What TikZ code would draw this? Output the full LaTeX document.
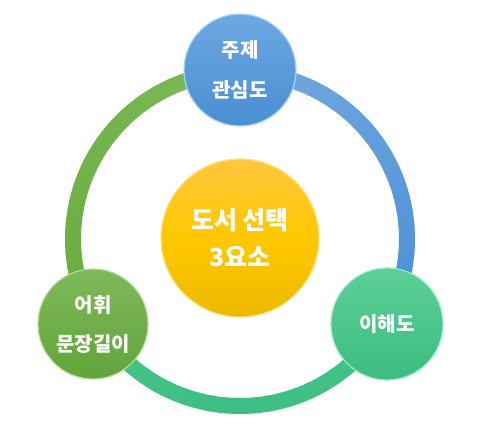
\documentclass[tikz,border=0pt]{standalone}
\usepackage{fontspec}
\newfontfamily\kr{Noto Sans CJK KR}
\definecolor{blueA}{HTML}{74AADF}
\definecolor{blueB}{HTML}{4A8FD6}
\definecolor{tealA}{HTML}{45C487}
\definecolor{tealB}{HTML}{3DBE82}
\definecolor{greenA}{HTML}{7DBA56}
\definecolor{greenB}{HTML}{68AC40}
\definecolor{yT}{HTML}{FFC83D}
\definecolor{yM}{HTML}{FFC800}
\definecolor{yB}{HTML}{EDB800}
\definecolor{yR}{HTML}{FFE27A}
\definecolor{bT}{HTML}{6CA8E1}
\definecolor{bB}{HTML}{4A8ED2}
\definecolor{bR}{HTML}{A8D4F5}
\definecolor{gT}{HTML}{7EB95A}
\definecolor{gB}{HTML}{62A43A}
\definecolor{gR}{HTML}{B4DA94}
\definecolor{tT}{HTML}{5CCF97}
\definecolor{tB}{HTML}{3CBD7F}
\definecolor{tR}{HTML}{9AEBC8}
\tikzset{
  ball/.style={circle, inner sep=0pt, text=white, align=center, font=\kr\bfseries},
  ringseg/.style={line width=16pt, line cap=butt}
}
\begin{document}
\begin{tikzpicture}[x=1pt,y=1pt]
\useasboundingbox (0,0) rectangle (482,440);
\fill[white] (0,0) rectangle (482,440);
\coordinate (C) at (240,201);
% ring segments
\foreach \i in {0,...,23}{
  \pgfmathsetmacro\a{90-5*\i}
  \pgfmathtruncatemacro\p{100-100*\i/23}
  \draw[ringseg, color=blueA!\p!blueB] (C) ++(\a:167) arc[start angle=\a, end angle=\a-5.6, radius=167];
}
\foreach \i in {0,...,23}{
  \pgfmathsetmacro\a{-30-5*\i}
  \pgfmathtruncatemacro\p{abs(100-200*\i/23)}
  \draw[ringseg, color=tealA!\p!tealB] (C) ++(\a:167) arc[start angle=\a, end angle=\a-5.6, radius=167];
}
\foreach \i in {0,...,23}{
  \pgfmathsetmacro\a{210-5*\i}
  \pgfmathtruncatemacro\p{100*\i/23}
  \draw[ringseg, color=greenA!\p!greenB] (C) ++(\a:167) arc[start angle=\a, end angle=\a-5.6, radius=167];
}
% circles
\node[ball, minimum size=158pt, top color=yT, bottom color=yB, middle color=yM,
  draw=yR, line width=1.2pt, font=\kr\bfseries\fontsize{25}{37}\selectfont] (center) at (240,202)
  {도서 선택\\3요소};
\node[ball, minimum size=112pt, top color=bT, bottom color=bB,
  draw=bR, line width=1.2pt, font=\kr\bfseries\fontsize{20}{40}\selectfont] (topic) at (240,370)
  {주제\\관심도};
\node[ball, minimum size=110pt, top color=gT, bottom color=gB,
  draw=gR, line width=1.2pt, font=\kr\bfseries\fontsize{20}{39}\selectfont] (vocab) at (93,116)
  {어휘\\문장길이};
\node[ball, minimum size=112pt, top color=tT, bottom color=tB,
  draw=tR, line width=1.2pt, font=\kr\bfseries\fontsize{20}{39}\selectfont] (underst) at (387,116)
  {이해도};
\end{tikzpicture}
\end{document}
